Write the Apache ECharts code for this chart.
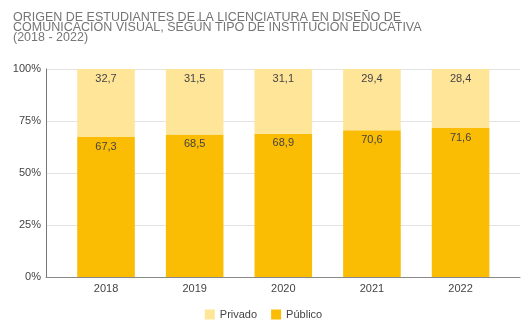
<!DOCTYPE html>
<html>
<head>
<meta charset="utf-8">
<script src="https://cdn.jsdelivr.net/npm/echarts@6/dist/echarts.min.js"></script>
<style>html,body{margin:0;padding:0;background:#fff}#c{width:527px;height:332px}</style>
</head>
<body>
<div id="c"></div>
<script>
var categories = ['2018', '2019', '2020', '2021', '2022'];
var publico = [67.3, 68.5, 68.9, 70.6, 71.6];
var privado = [32.7, 31.5, 31.1, 29.4, 28.4];
var yTicks = [0, 25, 50, 75, 100];

function fmt(p) { return Number(p.value).toFixed(1).replace('.', ','); }
var FONT = 'Liberation Sans, Arial';

var chart = echarts.init(document.getElementById('c'), null, {renderer: 'canvas'});
chart.setOption({
  animation: false,
  title: {
    text: 'ORIGEN DE ESTUDIANTES DE LA LICENCIATURA EN DISEÑO DE\nCOMUNICACIÓN VISUAL, SEGÚN TIPO DE INSTITUCIÓN EDUCATIVA\n(2018 - 2022)',
    left: 13, top: 13, padding: 0,
    textStyle: {fontFamily: FONT, fontSize: 12.5, fontWeight: 'normal', color: '#757575', lineHeight: 10}
  },
  legend: {
    data: ['Privado', 'Público'],
    left: 'center', top: 304,
    icon: 'rect', itemWidth: 10, itemHeight: 10, itemGap: 14,
    textStyle: {fontFamily: FONT, fontSize: 11, color: '#444'}
  },
  grid: [
    {left: 46, right: 7, top: 69, bottom: 55},
    {left: 61.7, right: 22.1, top: 69, bottom: 55}
  ],
  xAxis: [
    {
      gridIndex: 0, type: 'value', min: 0, max: 1,
      splitLine: {show: false}, axisTick: {show: false}, axisLabel: {show: false},
      axisLine: {show: true, onZero: false, lineStyle: {color: '#888', width: 1}}
    },
    {
      gridIndex: 1, type: 'category', data: categories,
      axisLine: {show: false}, axisTick: {show: false},
      axisLabel: {fontFamily: FONT, fontSize: 11, color: '#444', margin: 6}
    }
  ],
  yAxis: [
    {
      gridIndex: 0, type: 'value', min: 0, max: 100, interval: 25,
      axisLine: {show: true, onZero: false, lineStyle: {color: '#777', width: 1}},
      axisTick: {show: false},
      splitLine: {lineStyle: {color: '#e3e3e3', width: 1}},
      axisLabel: {formatter: '{value}%', fontFamily: FONT, fontSize: 11, color: '#444', margin: 5}
    },
    {
      gridIndex: 1, type: 'value', min: 0, max: 100, interval: 25,
      show: false, splitLine: {show: false}
    }
  ],
  series: [
    {
      name: 'Público', type: 'bar', stack: 't', barWidth: 57.6,
      xAxisIndex: 1, yAxisIndex: 1,
      data: publico,
      itemStyle: {color: '#FBBC04'},
      label: {show: true, position: 'insideTop', distance: 4, formatter: fmt,
        fontFamily: FONT, fontSize: 11, color: '#444'}
    },
    {
      name: 'Privado', type: 'bar', stack: 't', barWidth: 57.6,
      xAxisIndex: 1, yAxisIndex: 1,
      data: privado,
      itemStyle: {color: '#FFE598'},
      label: {show: true, position: 'insideTop', distance: 4, formatter: fmt,
        fontFamily: FONT, fontSize: 11, color: '#444'}
    }
  ]
});
</script>
</body>
</html>
